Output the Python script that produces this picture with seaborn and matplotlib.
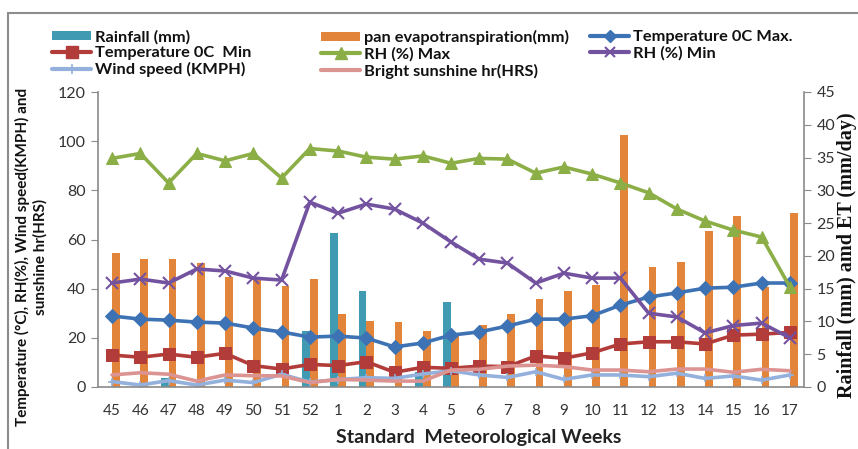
import numpy as np
import pandas as pd
import matplotlib
matplotlib.use("Agg")
import matplotlib.pyplot as plt
import seaborn as sns
from matplotlib.lines import Line2D
from matplotlib.patches import Patch, Rectangle

# standard meteorological weeks (Nov -> Apr)
weeks = ["45", "46", "47", "48", "49", "50", "51", "52", "1", "2", "3", "4", "5",
         "6", "7", "8", "9", "10", "11", "12", "13", "14", "15", "16", "17"]

# right axis (mm)
rainfall = [0, 0, 1.3, 0, 0, 0, 0, 8.6, 23.5, 14.7, 0, 2.3, 13.0,
            0, 0, 0, 0, 0, 0, 0, 0, 0, 0, 0, 0]
pan_et = [20.5, 19.6, 19.6, 18.9, 16.8, 16.3, 15.4, 16.4, 11.2, 10.0, 9.9, 8.6, 7.8,
          9.4, 11.1, 13.4, 14.7, 15.5, 38.4, 18.3, 19.1, 23.8, 26.1, 15.3, 26.6]

# left axis
temp_max = [28.9, 27.6, 27.2, 26.4, 26.0, 24.0, 22.4, 20.3, 20.7, 19.9, 16.3, 17.9, 21.1,
            22.4, 24.8, 27.6, 27.6, 29.0, 33.3, 36.6, 38.3, 40.2, 40.6, 42.3, 42.3]
temp_min = [13.0, 12.1, 13.4, 12.1, 13.7, 8.7, 7.3, 9.2, 8.7, 10.3, 6.0, 8.0, 7.6,
            8.5, 8.3, 12.6, 11.7, 13.9, 17.5, 18.4, 18.4, 17.5, 21.1, 21.5, 22.2]
rh_max = [93, 95, 83, 95, 92, 95, 85, 97, 96, 93.5, 92.7, 94, 91,
          93, 92.7, 87, 89.5, 86.6, 83, 79, 72.4, 67.5, 63.8, 61, 40.7]
rh_min = [42.3, 43.9, 42.3, 48, 47.2, 44.3, 43.5, 75.2, 70.7, 74.4, 72.4, 66.7, 59,
          52, 50.4, 42.3, 46.3, 44.3, 44.3, 30, 28.5, 22, 25, 26, 20]
wind = [2.2, 0.8, 2.6, 0.8, 2.8, 1.8, 5.2, 2.0, 3.0, 3.8, 3.5, 5.3, 6.6,
        4.9, 3.9, 6.2, 3.1, 4.9, 4.9, 4.2, 5.6, 3.5, 4.5, 2.8, 4.9]
sunshine = [4.9, 5.8, 5.2, 2.4, 4.9, 4.6, 4.5, 1.8, 3.1, 2.8, 2.4, 2.4, 6.9,
            7.2, 8.5, 8.9, 8.3, 6.9, 6.9, 6.2, 7.3, 7.3, 6.0, 7.2, 6.6]

sns.set_style("white")
plt.rcParams["font.family"] = ["Lato", "DejaVu Sans"]

c_rain = "#3f9ab2"
c_et = "#e2853a"
c_tmax = "#3d72b4"
c_tmin = "#b23c3a"
c_rhmax = "#8bae46"
c_rhmin = "#7352a0"
c_wind = "#93b1dc"
c_sun = "#dc9492"
gray = "#8a8a8a"

fig = plt.figure(figsize=(8.58, 4.49), dpi=100)
ax = fig.add_axes([98 / 858, 1 - 387 / 449, 706 / 858, 295 / 449])
ax2 = ax.twinx()

# bars on the right axis
bars = pd.DataFrame({"week": weeks * 2,
                     "value": rainfall + pan_et,
                     "kind": ["Rainfall (mm)"] * len(weeks) + ["pan evapotranspiration(mm)"] * len(weeks)})
sns.barplot(data=bars, x="week", y="value", hue="kind", order=weeks,
            palette=[c_rain, c_et], width=0.55, ax=ax2, legend=False,
            saturation=1, linewidth=0)
ax2.set_ylim(0, 45)
ax2.set_yticks(np.arange(0, 46, 5))
ax2.set_ylabel("")
ax2.set_xlabel("")

# lines on the left axis, drawn above the bars
ax.set_zorder(ax2.get_zorder() + 1)
ax.patch.set_visible(False)
pos = np.arange(len(weeks))
sns.lineplot(x=pos, y=temp_max, ax=ax, color=c_tmax, lw=2.6, marker="D", ms=7, mec=c_tmax, sort=False)
sns.lineplot(x=pos, y=temp_min, ax=ax, color=c_tmin, lw=2.6, marker="s", ms=9, mec=c_tmin, sort=False)
sns.lineplot(x=pos, y=rh_max, ax=ax, color=c_rhmax, lw=2.6, marker="^", ms=9, mec=c_rhmax, sort=False)
sns.lineplot(x=pos, y=rh_min, ax=ax, color=c_rhmin, lw=2.6, marker="x", ms=8, mew=1.5, mec=c_rhmin, sort=False)
sns.lineplot(x=pos, y=wind, ax=ax, color=c_wind, lw=2.6, marker="+", ms=6, mew=1.2, mec=c_wind, sort=False)
sns.lineplot(x=pos, y=sunshine, ax=ax, color=c_sun, lw=2.6, sort=False)

ax.set_xlim(-0.5, len(weeks) - 0.5)
ax.set_ylim(0, 120)
ax.set_yticks(np.arange(0, 121, 20))
ax.set_xticks(pos)
ax.set_xticklabels(weeks)
ax.set_xticks(np.arange(-0.5, len(weeks), 1), minor=True)
ax.tick_params(axis="x", which="major", length=0, pad=12, labelsize=11, labelcolor="#333333")
ax.tick_params(axis="x", which="minor", length=5, direction="out", color=gray, width=1)
ax.tick_params(axis="y", length=5, direction="out", color=gray, labelsize=11.5, labelcolor="#333333", pad=4)
ax2.tick_params(axis="y", length=5, direction="out", color=gray, labelsize=11.5, labelcolor="#333333", pad=4)
ax2.tick_params(axis="x", length=0)

for a in (ax, ax2):
    a.spines["top"].set_visible(False)
    for s in ("left", "right", "bottom"):
        a.spines[s].set_color(gray)
        a.spines[s].set_linewidth(1.2)
ax.spines["right"].set_visible(False)
ax2.spines["left"].set_visible(False)
ax2.spines["bottom"].set_visible(False)

ax.set_xlabel("")
ax.set_ylabel("")
fig.text(479 / 858, 1 - 438 / 449, "Standard  Meteorological Weeks", ha="center", va="center",
         fontsize=14, fontweight="bold", color="#222222")

fig.text(31 / 858, 1 - 257 / 449, "Temperature (\u00b0C), RH(%), Wind speed(KMPH) and\nsunshine hr(HRS)",
         rotation=90, ha="center", va="center", fontsize=11, fontweight="bold",
         multialignment="center", linespacing=1.3, color="#111111")
fig.text(857 / 858, 1 - 255 / 449, "Rainfall (mm) amd ET (mm/day)", rotation=90,
         ha="right", va="center", fontsize=14.5, fontweight="bold",
         family=["Liberation Serif", "DejaVu Serif"], color="#111111")

# outer chart frame
fig.patches.append(Rectangle((8 / 858, -0.2), 1.2, 1.2 - 13 / 449,
                             transform=fig.transFigure, fill=False, ec="#8c8c8c", lw=1.5))

# legend, three columns placed separately
lw_leg = 3.0
cols = [
    ([Patch(fc=c_rain, ec="none"),
      Line2D([], [], color=c_tmin, lw=lw_leg, marker="s", ms=9),
      Line2D([], [], color=c_wind, lw=lw_leg, marker="+", ms=7, mew=1.2)],
     ["Rainfall (mm)", "Temperature 0C  Min", "Wind speed (KMPH)"], 52),
    ([Patch(fc=c_et, ec="none"),
      Line2D([], [], color=c_rhmax, lw=lw_leg, marker="^", ms=8),
      Line2D([], [], color=c_sun, lw=lw_leg)],
     ["pan evapotranspiration(mm)", "RH (%) Max", "Bright sunshine hr(HRS)"], 321),
    ([Line2D([], [], color=c_tmax, lw=lw_leg, marker="D", ms=6),
      Line2D([], [], color=c_rhmin, lw=lw_leg, marker="x", ms=7, mew=1.5)],
     ["Temperature 0C Max.", "RH (%) Min"], 590),
]
for handles, labels, x0 in cols:
    leg = fig.legend(handles, labels, loc="upper left", bbox_to_anchor=(x0 / 858, 1 - 30 / 449),
                     frameon=False, ncol=1, handlelength=2.4, handleheight=0.5, handletextpad=0.2,
                     labelspacing=0.12, borderpad=0, borderaxespad=0,
                     prop={"weight": "bold", "size": 11.8})
    for t in leg.get_texts():
        t.set_color("#111111")

fig.savefig("out.png", dpi=100)
